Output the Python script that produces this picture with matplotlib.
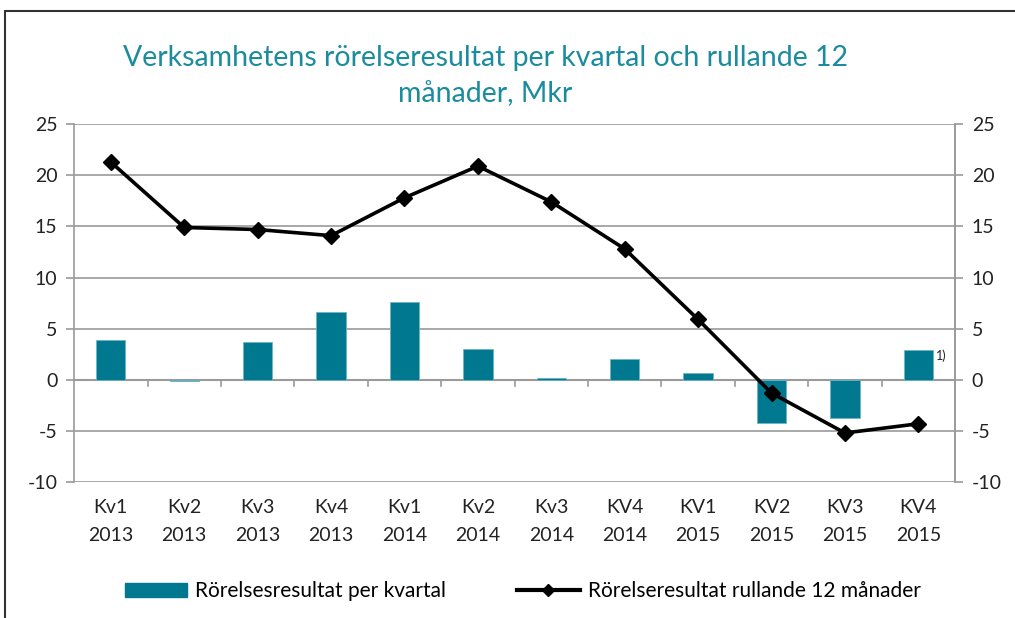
import matplotlib
matplotlib.use("Agg")
import matplotlib.pyplot as plt
from matplotlib.lines import Line2D
from matplotlib.patches import Patch, Rectangle

categories = ["Kv1\n2013", "Kv2\n2013", "Kv3\n2013", "Kv4\n2013",
              "Kv1\n2014", "Kv2\n2014", "Kv3\n2014", "KV4\n2014",
              "KV1\n2015", "KV2\n2015", "KV3\n2015", "KV4\n2015"]
quarterly = [3.9, -0.1, 3.7, 6.6, 7.6, 3.0, 0.2, 2.0, 0.7, -4.2, -3.7, 2.9]
rolling12 = [21.3, 14.9, 14.7, 14.1, 17.8, 20.9, 17.4, 12.8, 5.9, -1.3, -5.2, -4.3]
yticks = [-10, -5, 0, 5, 10, 15, 20, 25]

FONT = ["Lato", "DejaVu Sans"]
plt.rcParams['font.family'] = FONT

BAR = "#00788F"
GRID = "#9a9a9a"
TITLE_C = "#1B8B9E"
TXT = "#222222"

fig = plt.figure(figsize=(10.15, 6.18), dpi=100)
ax = fig.add_axes([0.073, 0.22, 0.868, 0.579])

x = list(range(len(categories)))
ax.bar(x, quarterly, width=0.4, color=BAR, edgecolor="#6fb3c2", linewidth=0.6, zorder=2)
ax.plot(x, rolling12, color="black", linewidth=2.6, marker="D", markersize=8, zorder=3)

ax.set_ylim(-10, 25)
ax.set_xlim(-0.5, len(categories) - 0.5)
ax.set_yticks(yticks)
ax.set_yticklabels([str(v) for v in yticks], fontsize=14, color=TXT)
ax.yaxis.grid(True, color=GRID, linewidth=1.2, zorder=0)
ax.set_axisbelow(True)
ax.tick_params(axis="y", length=6, color=GRID, width=1.2, pad=6)

ax.set_xticks(x)
ax.set_xticklabels(categories, fontsize=14, color=TXT, linespacing=1.8)
ax.tick_params(axis="x", length=0, pad=12)
for b in range(1, len(categories)):
    ax.plot([b - 0.5, b - 0.5], [0, -0.65], color=GRID, linewidth=1.2, zorder=1, clip_on=False)
ax.axhline(0, color=GRID, linewidth=1.5, zorder=1)

for side in ["top", "bottom"]:
    ax.spines[side].set_visible(False)
for side in ["left", "right"]:
    ax.spines[side].set_color(GRID)
    ax.spines[side].set_linewidth(1.2)

ax2 = ax.twinx()
ax2.set_ylim(-10, 25)
ax2.set_yticks(yticks)
ax2.set_yticklabels([str(v) for v in yticks], fontsize=14, color=TXT)
ax2.tick_params(axis="y", length=6, color=GRID, width=1.2, pad=6)
for side in ["top", "bottom", "left"]:
    ax2.spines[side].set_visible(False)
ax2.spines["right"].set_color(GRID)
ax2.spines["right"].set_linewidth(1.2)

ax.annotate("1)", xy=(x[-1] + 0.2, quarterly[-1]), xytext=(2, -4), textcoords="offset points",
            fontsize=9, color=TXT, ha="left", va="center")

fig.text(0.478, 0.877, "Verksamhetens rörelseresultat per kvartal och rullande 12\nmånader, Mkr",
         ha="center", va="center", fontsize=20.5, color=TITLE_C, linespacing=1.45)

handles = [Patch(facecolor=BAR, edgecolor=BAR),
           Line2D([0], [0], color="black", linewidth=3, marker="D", markersize=6)]
labels = ["Rörelsesresultat per kvartal", "Rörelseresultat rullande 12 månader"]
fig.legend(handles, labels, loc="center", bbox_to_anchor=(0.515, 0.043), ncol=2, frameon=False,
           fontsize=15, handlelength=3.0, handleheight=0.6, columnspacing=3.4, handletextpad=0.4)

fig.patches.append(Rectangle((0.005, -0.1), 1.2, 1.082, transform=fig.transFigure,
                             fill=False, edgecolor="#333333", linewidth=1.5))

fig.savefig("out.png", dpi=100)
